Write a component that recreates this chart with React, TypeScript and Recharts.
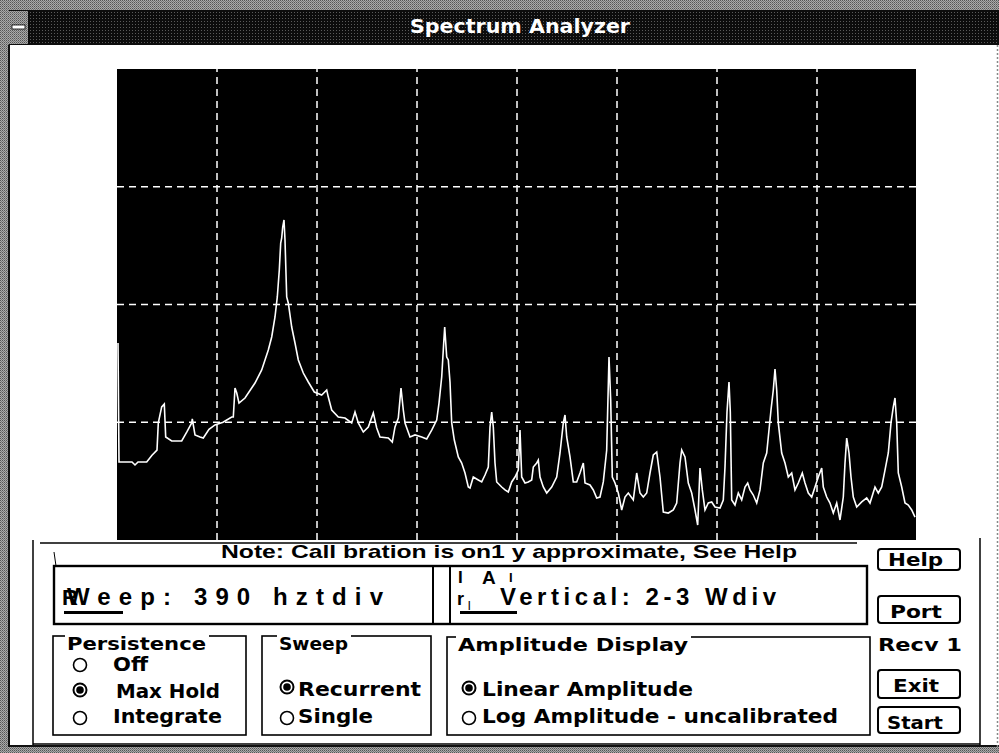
import React from "react";
import { LineChart, Line, XAxis, YAxis, ReferenceLine } from "recharts";

// Spectrum trace: [frequency in divisions, amplitude in divisions]
const traceDiv0to2: [number, number][] = [
  [0.01, 1.673], [0.02, 0.662], [0.15, 0.662], [0.18, 0.637], [0.21, 0.662], [0.297, 0.662], [0.35, 0.72], [0.4, 0.764],
  [0.413, 0.994], [0.447, 1.13], [0.473, 1.155], [0.487, 0.875], [0.547, 0.841], [0.647, 0.841], [0.7, 0.92], [0.747, 0.994],
  [0.753, 1.028], [0.78, 0.892], [0.83, 0.875], [0.863, 0.866], [0.92, 0.94], [0.98, 0.977], [1.06, 1.0], [1.147, 1.045],
  [1.163, 1.045], [1.18, 1.291], [1.197, 1.25], [1.22, 1.163], [1.28, 1.206], [1.38, 1.333], [1.447, 1.444], [1.513, 1.614],
  [1.547, 1.724], [1.58, 1.894], [1.603, 2.064], [1.623, 2.293], [1.637, 2.522], [1.647, 2.565], [1.657, 2.658], [1.67, 2.718],
  [1.68, 2.548], [1.697, 2.064], [1.713, 2.013], [1.747, 1.809], [1.78, 1.673], [1.813, 1.529], [1.863, 1.418], [1.913, 1.342],
  [1.973, 1.257],
];
const traceDiv2to4: [number, number][] = [
  [2.047, 1.231], [2.097, 1.274], [2.113, 1.214], [2.147, 1.104], [2.213, 1.045], [2.28, 1.036], [2.347, 0.994], [2.38, 1.087],
  [2.413, 0.994], [2.463, 0.917], [2.513, 0.96], [2.563, 1.079], [2.597, 0.951], [2.63, 0.875], [2.713, 0.866], [2.753, 0.832],
  [2.78, 0.96], [2.813, 1.036], [2.84, 1.291], [2.863, 1.104], [2.88, 0.994], [2.93, 0.875], [2.98, 0.892], [3.047, 0.875],
  [3.097, 0.858], [3.147, 0.934], [3.197, 1.019], [3.22, 1.163], [3.247, 1.384], [3.267, 1.673], [3.277, 1.809], [3.297, 1.554],
  [3.313, 1.529], [3.33, 1.342], [3.347, 0.994], [3.373, 0.849], [3.413, 0.705], [3.447, 0.654], [3.48, 0.569], [3.513, 0.45],
  [3.53, 0.442], [3.563, 0.535], [3.613, 0.51], [3.647, 0.493], [3.68, 0.552], [3.713, 0.62], [3.73, 0.96], [3.747, 1.087],
  [3.763, 0.96], [3.78, 0.654], [3.797, 0.493], [3.847, 0.45], [3.88, 0.425], [3.913, 0.408], [3.947, 0.493], [3.98, 0.535],
];
const traceDiv4to6: [number, number][] = [
  [4.013, 0.594], [4.03, 0.934], [4.047, 0.535], [4.08, 0.484], [4.113, 0.493], [4.147, 0.51], [4.163, 0.62], [4.197, 0.654],
  [4.213, 0.679], [4.23, 0.535], [4.263, 0.45], [4.297, 0.399], [4.347, 0.45], [4.397, 0.535], [4.43, 0.739], [4.463, 0.994],
  [4.48, 1.062], [4.497, 0.875], [4.53, 0.705], [4.563, 0.493], [4.597, 0.493], [4.63, 0.569], [4.663, 0.654], [4.68, 0.484],
  [4.73, 0.467], [4.763, 0.425], [4.797, 0.357], [4.83, 0.365], [4.863, 0.493], [4.897, 0.764], [4.92, 1.554], [4.937, 1.189],
  [4.953, 0.535], [4.98, 0.484], [5.013, 0.399], [5.047, 0.255], [5.08, 0.365], [5.113, 0.399], [5.163, 0.34], [5.197, 0.569],
  [5.23, 0.399], [5.263, 0.365], [5.297, 0.399], [5.33, 0.569], [5.363, 0.722], [5.397, 0.747], [5.43, 0.535], [5.463, 0.238],
  [5.513, 0.229], [5.563, 0.255], [5.597, 0.314], [5.63, 0.654], [5.647, 0.764], [5.68, 0.705], [5.713, 0.484], [5.747, 0.399],
  [5.78, 0.255], [5.807, 0.127], [5.83, 0.611], [5.853, 0.425], [5.88, 0.255], [5.913, 0.314], [5.947, 0.323], [5.98, 0.28],
];
const traceDiv6to8: [number, number][] = [
  [6.03, 0.272], [6.063, 0.34], [6.08, 0.62], [6.1, 1.087], [6.12, 1.342], [6.133, 1.087], [6.147, 0.34], [6.18, 0.297],
  [6.213, 0.399], [6.247, 0.34], [6.28, 0.45], [6.307, 0.484], [6.33, 0.425], [6.363, 0.382], [6.397, 0.314], [6.43, 0.425],
  [6.463, 0.654], [6.497, 0.739], [6.513, 0.875], [6.54, 1.104], [6.563, 1.274], [6.58, 1.452], [6.597, 1.274], [6.613, 0.994],
  [6.647, 0.739], [6.68, 0.654], [6.713, 0.535], [6.747, 0.569], [6.78, 0.425], [6.813, 0.484], [6.853, 0.569], [6.88, 0.484],
  [6.913, 0.399], [6.947, 0.365], [6.98, 0.45], [7.013, 0.535], [7.047, 0.611], [7.063, 0.45], [7.097, 0.365], [7.13, 0.314],
  [7.163, 0.229], [7.197, 0.314], [7.23, 0.17], [7.263, 0.365], [7.28, 0.654], [7.297, 0.866], [7.32, 0.739], [7.34, 0.535],
  [7.363, 0.365], [7.397, 0.28], [7.447, 0.323], [7.497, 0.357], [7.53, 0.314], [7.58, 0.45], [7.613, 0.399], [7.647, 0.45],
  [7.68, 0.594], [7.713, 0.739], [7.74, 0.994], [7.763, 1.13], [7.78, 1.206], [7.797, 0.994], [7.813, 0.569], [7.847, 0.45],
  [7.88, 0.314], [7.913, 0.297], [7.947, 0.255], [7.98, 0.195],
];

const gridX = [1, 2, 3, 4, 5, 6, 7];
const gridY = [1, 2, 3];

const titleText = "Spectrum Analyzer";
const noteText = "Note: Call bration is on1 y approximate, See Help";
const sweepText = "Weep: 390 hztdiv";
const verticalText = "Vertical: 2-3 Wdiv";
const persistenceOptions = ["Off", "Max Hold", "Integrate"];
const sweepOptions = ["Recurrent", "Single"];
const amplitudeOptions = ["Linear Amplitude", "Log Amplitude - uncalibrated"];
const buttonLabels = ["Help", "Port", "Exit", "Start"];

const data = [...traceDiv0to2, ...traceDiv2to4, ...traceDiv4to6, ...traceDiv6to8].map(([f, a]) => ({ f, a }));

const SYS = "'DejaVu Sans Condensed','Liberation Sans Narrow','DejaVu Sans',sans-serif";
const ARIAL = "'Liberation Sans',Arial,sans-serif";

function Txt(p: {
  x: number; y: number; w?: number; size: number; font?: string; fill?: string;
  children: React.ReactNode; weight?: number; adjust?: "spacing" | "spacingAndGlyphs";
}) {
  return (
    <text
      x={p.x}
      y={p.y}
      fontSize={p.size}
      fontFamily={p.font || SYS}
      fontWeight={p.weight ?? 700}
      fill={p.fill || "#000"}
      textLength={p.w}
      lengthAdjust={p.w ? p.adjust || "spacingAndGlyphs" : undefined}
    >
      {p.children}
    </text>
  );
}

function Radio({ cx, cy, on }: { cx: number; cy: number; on: boolean }) {
  return (
    <g>
      <circle cx={cx} cy={cy} r={6.5} fill="#fff" stroke="#000" strokeWidth={on ? 2 : 1.6} />
      {on && <circle cx={cx} cy={cy} r={3.8} fill="#000" />}
    </g>
  );
}

function GroupBox({ x, y, w, h, title, tx, tw }: { x: number; y: number; w: number; h: number; title: string; tx: number; tw: number }) {
  return (
    <g>
      <rect x={x} y={y} width={w} height={h} fill="none" stroke="#000" strokeWidth={1.6} />
      <rect x={tx - 2} y={y - 3} width={tw + 5} height={8} fill="#fff" />
      <Txt x={tx} y={y + 14} w={tw} size={18}>{title}</Txt>
    </g>
  );
}

function Button({ y, h, label, tx, tw, by }: { y: number; h: number; label: string; tx: number; tw: number; by: number }) {
  return (
    <g>
      <rect x={878} y={y} width={82} height={h} rx={3} fill="#fff" stroke="#000" strokeWidth={2} />
      <Txt x={tx} y={by} w={tw} size={18}>{label}</Txt>
    </g>
  );
}

export default function App() {
  return (
    <div style={{ position: "absolute", left: 0, top: 0, width: 999, height: 753, background: "#fff", overflow: "hidden" }}>
      <svg width={999} height={753} style={{ position: "absolute", left: 0, top: 0 }}>
        <defs>
          <pattern id="dither" width="3" height="3" patternUnits="userSpaceOnUse">
            <rect width="3" height="3" fill="#0c0c0c" />
            <rect x="0" y="0" width="1" height="1" fill="#5a5a5a" />
          </pattern>
          <pattern id="lightDither" width="2" height="2" patternUnits="userSpaceOnUse">
            <rect width="2" height="2" fill="#aaa" />
            <rect x="0" y="0" width="1" height="1" fill="#555" />
            <rect x="1" y="1" width="1" height="1" fill="#777" />
          </pattern>
        </defs>
        {/* window frame */}
        <rect x={0} y={0} width={999} height={10} fill="url(#lightDither)" />
        <rect x={0} y={10} width={999} height={35} fill="url(#dither)" />
        <rect x={0} y={0} width={9} height={753} fill="url(#lightDither)" />
        <rect x={8} y={45} width={2} height={703} fill="#111" />
        <rect x={0} y={747} width={999} height={6} fill="url(#lightDither)" />
        <rect x={8} y={745} width={991} height={2} fill="#111" />
        <line x1={997.5} y1={45} x2={997.5} y2={753} stroke="#888" strokeWidth={1.5} strokeDasharray="2 2" />
        {/* system menu box */}
        <rect x={9} y={11} width={19} height={33} fill="url(#lightDither)" />
        <rect x={12} y={25} width={13} height={4} fill="#fff" stroke="#000" strokeWidth={0.8} />
        <Txt x={410} y={33} w={220} size={19} fill="#fff">{titleText}</Txt>

        {/* lower control panel */}
        <line x1={33} y1={540} x2={33} y2={745} stroke="#000" strokeWidth={1.5} />
        <line x1={33} y1={744} x2={980} y2={744} stroke="#000" strokeWidth={1.5} />
        <line x1={980} y1={538} x2={980} y2={745} stroke="#000" strokeWidth={1.5} />
        <Txt x={221} y={558} w={576} size={19} font={ARIAL}>{noteText}</Txt>
        <line x1={40} y1={543} x2={857} y2={543} stroke="#000" strokeWidth={1.5} />
        <line x1={54} y1={552} x2={56} y2={566} stroke="#000" strokeWidth={1} />

        {/* readout boxes */}
        <rect x={54} y={566} width={813} height={58} fill="none" stroke="#000" strokeWidth={2.4} />
        <line x1={433} y1={566} x2={433} y2={624} stroke="#000" strokeWidth={2} />
        <line x1={450} y1={566} x2={450} y2={624} stroke="#000" strokeWidth={2} />
        <Txt x={62} y={605} size={22} font={ARIAL}>R</Txt>
        <Txt x={67} y={605} w={316} size={24} font={ARIAL} adjust="spacing">{sweepText}</Txt>
        <rect x={64} y={611} width={59} height={3} fill="#000" />
        <Txt x={458} y={583} size={17} font={ARIAL}>I</Txt>
        <Txt x={482} y={584} size={19} font={ARIAL}>A</Txt>
        <Txt x={509} y={582} size={13} font={ARIAL}>I</Txt>
        <Txt x={457} y={605} size={18} font={ARIAL}>r</Txt>
        <Txt x={468} y={608} size={9} font={ARIAL}>|</Txt>
        <Txt x={500} y={605} w={276} size={24} font={ARIAL} adjust="spacing">{verticalText}</Txt>
        <rect x={460} y={611} width={57} height={3} fill="#000" />

        {/* Persistence */}
        <GroupBox x={53} y={636} w={193} h={99} title="Persistence" tx={67} tw={139} />
        <Radio cx={80} cy={665} on={false} />
        <Txt x={113} y={671} w={35} size={19}>{persistenceOptions[0]}</Txt>
        <Radio cx={80} cy={690} on={true} />
        <Txt x={116} y={698} w={104} size={19}>{persistenceOptions[1]}</Txt>
        <Radio cx={80} cy={718} on={false} />
        <Txt x={113} y={723} w={109} size={19}>{persistenceOptions[2]}</Txt>

        {/* Sweep */}
        <GroupBox x={262} y={636} w={169} h={99} title="Sweep" tx={279} tw={69} />
        <Radio cx={287} cy={687} on={true} />
        <Txt x={298} y={696} w={123} size={19}>{sweepOptions[0]}</Txt>
        <Radio cx={287} cy={718} on={false} />
        <Txt x={298} y={723} w={75} size={19}>{sweepOptions[1]}</Txt>

        {/* Amplitude Display */}
        <GroupBox x={447} y={637} w={423} h={98} title="Amplitude Display" tx={458} tw={230} />
        <Radio cx={469} cy={688} on={true} />
        <Txt x={482} y={696} w={211} size={19}>{amplitudeOptions[0]}</Txt>
        <Radio cx={469} cy={718} on={false} />
        <Txt x={482} y={723} w={356} size={19}>{amplitudeOptions[1]}</Txt>

        {/* Buttons */}
        <Button y={549} h={21} label={buttonLabels[0]} tx={888} tw={55} by={566} />
        <Button y={596} h={27} label={buttonLabels[1]} tx={890} tw={52} by={618} />
        <Txt x={878} y={651} w={84} size={18}>Recv 1</Txt>
        <Button y={670} h={28} label={buttonLabels[2]} tx={893} tw={46} by={692} />
        <Button y={707} h={26} label={buttonLabels[3]} tx={887} tw={56} by={729} />
      </svg>

      <div style={{ position: "absolute", left: 117, top: 69, width: 799, height: 471, background: "#000" }}>
        <LineChart width={800} height={471} data={data} margin={{ top: 0, right: 0, bottom: 0, left: 0 }}>
          <XAxis type="number" dataKey="f" domain={[0, 8]} hide allowDataOverflow />
          <YAxis type="number" domain={[0, 4]} hide allowDataOverflow />
          {gridX.map((v) => (
            <ReferenceLine key={"x" + v} x={v} stroke="#fff" strokeDasharray="7 5" strokeWidth={1.5} />
          ))}
          {gridY.map((v) => (
            <ReferenceLine key={"y" + v} y={v} stroke="#fff" strokeDasharray="7 5" strokeWidth={1.5} />
          ))}
          <Line dataKey="a" type="linear" stroke="#fff" strokeWidth={1.6} dot={false} isAnimationActive={false} />
        </LineChart>
      </div>
    </div>
  );
}
